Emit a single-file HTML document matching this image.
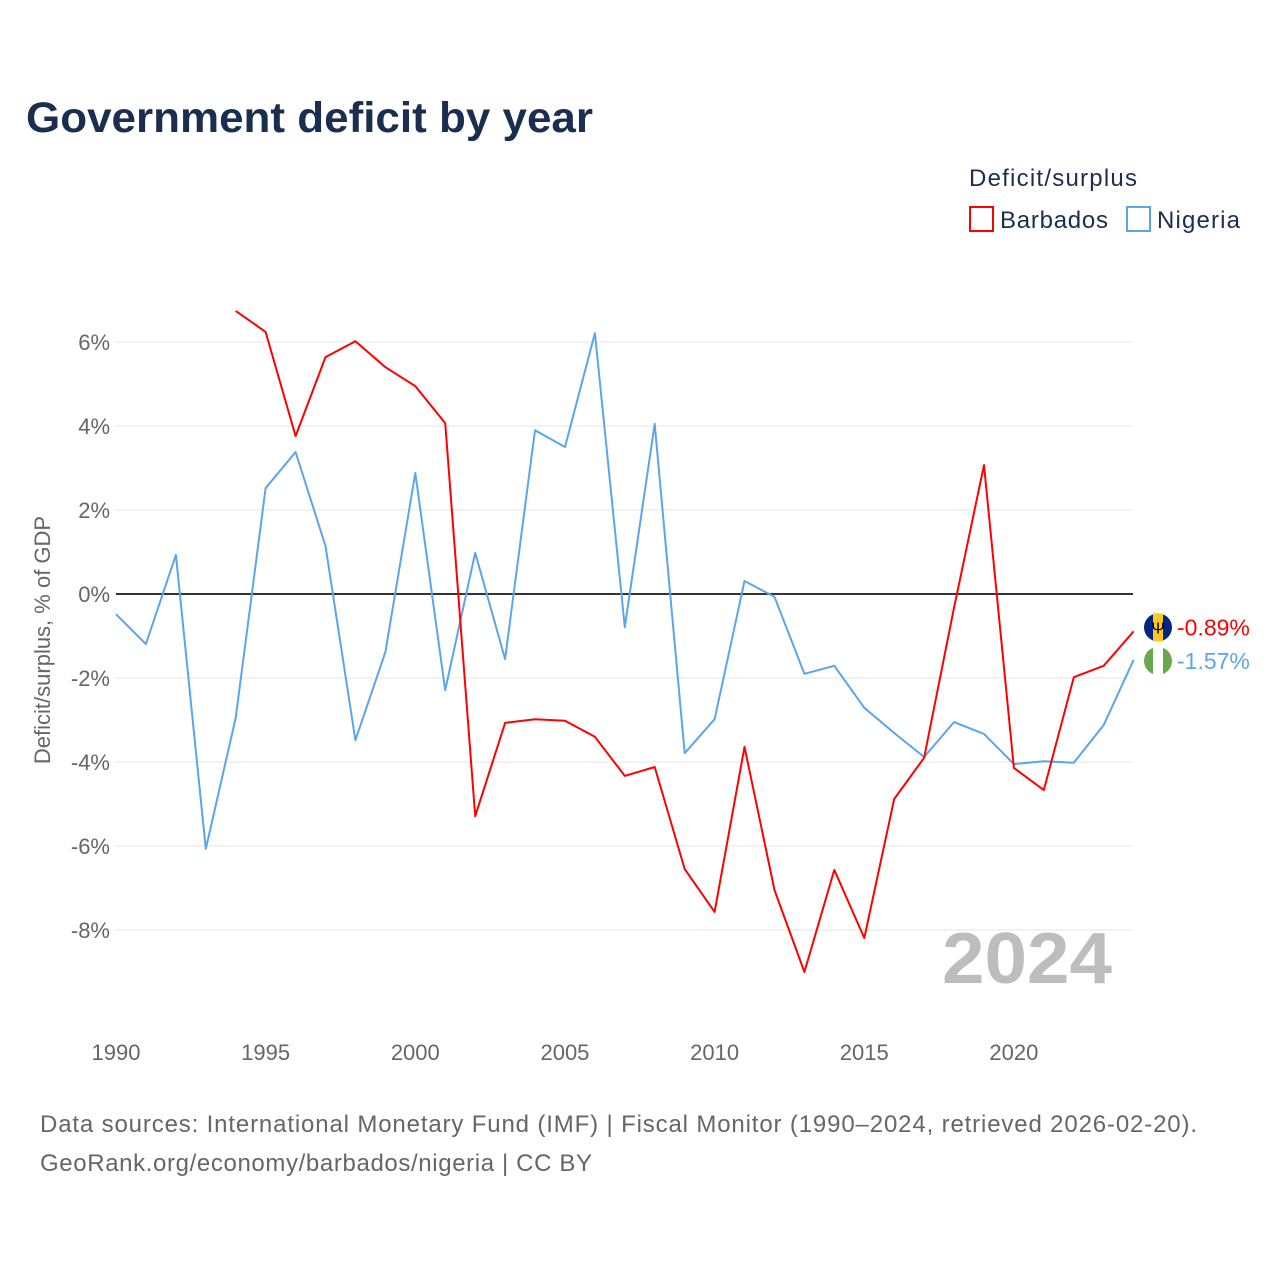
<!DOCTYPE html>
<html><head><meta charset="utf-8"><style>
body{margin:0;background:#fff;font-family:"Liberation Sans",sans-serif}
svg text{font-family:"Liberation Sans",sans-serif}
</style></head><body>
<svg id="chart" width="1280" height="1280" xmlns="http://www.w3.org/2000/svg">
<text x="26" y="132" font-size="43" font-weight="bold" fill="#1a2e4f" textLength="567" lengthAdjust="spacingAndGlyphs">Government deficit by year</text>
<text x="969" y="186" font-size="24" fill="#1a2e4f" textLength="168">Deficit/surplus</text>
<g><rect x="970" y="207" width="23" height="24" fill="none" stroke="#ff0000" stroke-width="2"/><text x="1000" y="228" font-size="24" fill="#1a2e4f" textLength="108">Barbados</text></g>
<g><rect x="1127" y="207" width="23" height="24" fill="none" stroke="#5ca5ea" stroke-width="2"/><text x="1157" y="228" font-size="24" fill="#1a2e4f" textLength="83">Nigeria</text></g>
<text transform="translate(50,640) rotate(-90)" text-anchor="middle" font-size="22" fill="#666">Deficit/surplus, % of GDP</text>
<g id="grid"></g><g id="yticks"></g><g id="xticks"></g>
<text x="942" y="983" font-size="72" font-weight="bold" fill="#bdbdbd" textLength="170" lengthAdjust="spacingAndGlyphs">2024</text>
<g id="series"></g>
<text x="40" y="1132" font-size="24" fill="#666" textLength="1157">Data sources: International Monetary Fund (IMF) | Fiscal Monitor (1990–2024, retrieved 2026-02-20).</text>
<text x="40" y="1171" font-size="24" fill="#666" textLength="552">GeoRank.org/economy/barbados/nigeria | CC BY</text>
</svg>
<script>
const years=[];for(let y=1990;y<=2024;y++)years.push(y);
const nigeria=[-0.48,-1.19,0.93,-6.07,-2.95,2.52,3.38,1.14,-3.48,-1.38,2.88,-2.29,0.98,-1.55,3.90,3.50,6.21,-0.79,4.05,-3.79,-2.98,0.31,-0.07,-1.90,-1.71,-2.71,-3.31,-3.88,-3.05,-3.33,-4.05,-3.98,-4.02,-3.12,-1.57];
const barbados=[null,null,null,null,6.74,6.24,3.76,5.64,6.02,5.40,4.95,4.07,-5.29,-3.07,-2.98,-3.02,-3.40,-4.33,-4.12,-6.55,-7.57,-3.64,-7.05,-9.0,-6.57,-8.19,-4.88,-3.90,-0.33,3.07,-4.14,-4.67,-1.98,-1.71,-0.89];
const yTicks=[6,4,2,0,-2,-4,-6,-8];
const xTicks=[1990,1995,2000,2005,2010,2015,2020];
const NS="http://www.w3.org/2000/svg";
const X=y=>116+(y-1990)*29.93, Y=v=>594-v*42;
function mk(t,a,p){const e=document.createElementNS(NS,t);for(const k in a)e.setAttribute(k,a[k]);p.appendChild(e);return e;}
const grid=document.getElementById('grid'),yt=document.getElementById('yticks'),xt=document.getElementById('xticks'),ser=document.getElementById('series');
yTicks.forEach(v=>{
 const l=mk('line',{x1:116,x2:1133,y1:Y(v),y2:Y(v),stroke:v===0?'#333':'#e6e6e6','stroke-width':v===0?2:1},grid);
 
 
 const t=mk('text',{x:110,y:Y(v)+8,'text-anchor':'end','font-size':22,fill:'#666'},yt);t.textContent=v+'%';
 
 
});
xTicks.forEach(y=>{
 const t=mk('text',{x:X(y),y:1060,'text-anchor':'middle','font-size':22,fill:'#666'},xt);t.textContent=y;
 
 
});
function line(vals,color,name){
 let d='';vals.forEach((v,i)=>{if(v===null)return;d+=(d?'L':'M')+X(years[i]).toFixed(1)+','+Y(v).toFixed(1);});
 const p=mk('path',{d:d,fill:'none',stroke:color,'stroke-width':2,'stroke-linejoin':'round'},ser);
 
 
}
line(nigeria,'#5ca5ea','nigeria-line');
line(barbados,'#ff0000','barbados-line');
const lb=barbados[barbados.length-1],ln=nigeria[nigeria.length-1];
const by=Y(lb)-4,ny=Y(ln)+1;
const fb=mk('g',{},ser);


mk('circle',{cx:1158,cy:by,r:14,fill:'#00267f'},fb);mk('rect',{x:1153,y:by-14,width:10,height:28,fill:'#ffc726'},fb);
const tr=mk('text',{x:1158,y:by+6,'text-anchor':'middle','font-size':16,fill:'#000'},fb);tr.textContent='Ψ';
const fn=mk('g',{},ser);


mk('circle',{cx:1158,cy:ny,r:14,fill:'#6aa84f'},fn);mk('rect',{x:1153,y:ny-14,width:10,height:28,fill:'#fff'},fn);
const tb=mk('text',{x:1177,y:by+8,'font-size':23,fill:'#ff0000'},ser);tb.textContent=lb.toFixed(2)+'%';


const tn=mk('text',{x:1177,y:ny+8,'font-size':23,fill:'#5ca5ea'},ser);tn.textContent=ln.toFixed(2)+'%';


</script>
</body></html>
